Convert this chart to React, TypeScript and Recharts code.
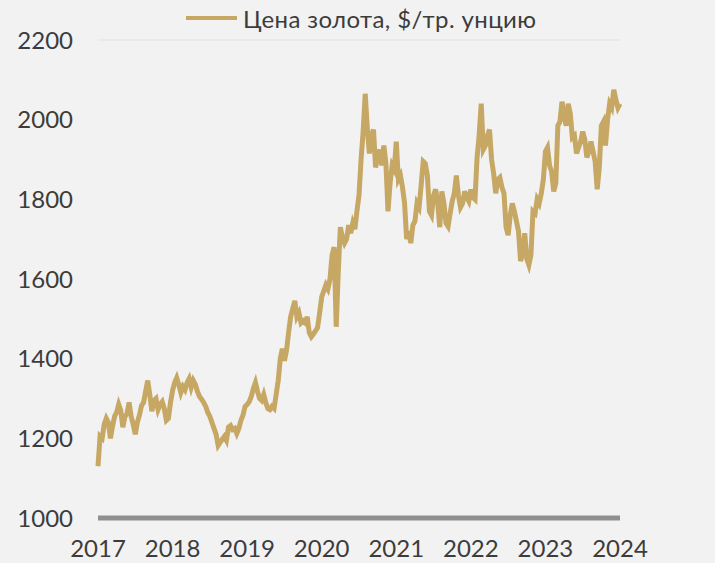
import React from 'react';
import {
  LineChart,
  Line,
  XAxis,
  YAxis,
  CartesianGrid,
} from 'recharts';

// Gold price, roughly every ten days (36 readings per year), USD per troy ounce
const prices2017 = [
  1130, 1205, 1200, 1235, 1250, 1240, 1200, 1230, 1255, 1265, 1285, 1270,
  1228, 1255, 1262, 1290, 1255, 1235, 1210, 1240, 1258, 1282, 1290, 1318,
  1345, 1310, 1268, 1295, 1300, 1272, 1285, 1292, 1275, 1245, 1250, 1290,
];
const prices2018 = [
  1320, 1340, 1352, 1335, 1315, 1330, 1322, 1340, 1350, 1328, 1345, 1335,
  1318, 1305, 1298, 1290, 1280, 1265, 1255, 1240, 1225, 1210, 1182, 1190,
  1198, 1205, 1195, 1228, 1232, 1222, 1225, 1212, 1225, 1245, 1258, 1280,
];
const prices2019 = [
  1285, 1292, 1305, 1325, 1340, 1318, 1300, 1295, 1310, 1290, 1275, 1272,
  1280, 1275, 1310, 1345, 1400, 1425, 1395, 1420, 1465, 1505, 1525, 1545,
  1505, 1515, 1490, 1495, 1490, 1505, 1465, 1455, 1462, 1470, 1478, 1515,
];
const prices2020 = [
  1555, 1570, 1585, 1575, 1600, 1660, 1680, 1480, 1620, 1730, 1705, 1690,
  1700, 1735, 1715, 1740, 1725, 1770, 1810, 1900, 1970, 2065, 1980, 1915,
  1960, 1975, 1880, 1905, 1925, 1885, 1935, 1890, 1770, 1840, 1885, 1875,
];
const prices2021 = [
  1945, 1850, 1860, 1830, 1790, 1700, 1720, 1690, 1735, 1745, 1790, 1780,
  1835, 1895, 1890, 1860, 1770, 1760, 1810, 1825, 1790, 1730, 1820, 1790,
  1740, 1732, 1765, 1795, 1815, 1860, 1810, 1780, 1790, 1820, 1805, 1795,
];
const prices2022 = [
  1825, 1805, 1800, 1905, 1960, 2040, 1925, 1935, 1960, 1975, 1900, 1865,
  1815, 1850, 1855, 1830, 1815, 1730, 1710, 1760, 1790, 1770, 1745, 1720,
  1645, 1665, 1715, 1650, 1635, 1660, 1770, 1765, 1800, 1790, 1815, 1850,
];
const prices2023 = [
  1920, 1930, 1885, 1870, 1820, 1840, 1985, 1995, 2045, 2010, 1985, 2040,
  2015, 1955, 1960, 1915, 1930, 1945, 1970, 1950, 1905, 1920, 1945, 1920,
  1895, 1825, 1880, 1985, 1995, 1935, 2000, 2040, 2030, 2075, 2050, 2030,
];
const lastPrice = 2040;

const years = [2017, 2018, 2019, 2020, 2021, 2022, 2023, 2024];
const yTicks = [1000, 1200, 1400, 1600, 1800, 2000, 2200];
const seriesName = 'Цена золота, $/тр. унцию';

const byYear = [prices2017, prices2018, prices2019, prices2020, prices2021, prices2022, prices2023];

const data = byYear.flatMap((arr, yi) =>
  arr.map((price, i) => ({ t: years[yi] + i / arr.length, price }))
);
data.push({ t: 2024, price: lastPrice });

const GOLD = '#c6a764';
const TEXT = '#3c3c3c';
const FONT = 'Lato, "Noto Sans", sans-serif';

export default function App() {
  return (
    <div style={{ position: 'absolute', left: 0, top: 0, width: 715, height: 563, background: '#f2f2f2' }}>
      {/* legend sits above the plot, drawn by hand so it takes no room from the chart */}
      <div
        style={{
          position: 'absolute',
          left: 186,
          top: 3,
          height: 30,
          display: 'flex',
          alignItems: 'center',
          fontFamily: FONT,
          fontSize: 24,
          letterSpacing: 0.4,
          color: TEXT,
          whiteSpace: 'nowrap',
        }}
      >
        <span style={{ display: 'inline-block', width: 51, height: 4, background: GOLD, marginRight: 6 }} />
        <span>{seriesName}</span>
      </div>
      <LineChart width={715} height={563} data={data} margin={{ top: 40, right: 0, left: 0, bottom: 0 }}>
        <CartesianGrid vertical={false} stroke="#e2e2e2" strokeWidth={1} />
        <XAxis
          dataKey="t"
          type="number"
          domain={[2017, 2024]}
          ticks={years}
          interval={0}
          height={45}
          axisLine={{ stroke: '#8f8f8f', strokeWidth: 5 }}
          tickLine={false}
          tickSize={0}
          tickMargin={22}
          tick={{ fontSize: 24, fill: TEXT, fontFamily: FONT }}
        />
        <YAxis
          yAxisId="left"
          orientation="left"
          domain={[1000, 2200]}
          ticks={yTicks}
          width={98}
          axisLine={false}
          tickLine={false}
          tickSize={0}
          tickMargin={25}
          tick={{ fontSize: 24, fill: TEXT, fontFamily: FONT }}
        />
        <YAxis
          yAxisId="right"
          orientation="right"
          domain={[1000, 2200]}
          ticks={yTicks}
          width={95}
          axisLine={false}
          tickLine={false}
          tickSize={0}
          tickMargin={23}
          tick={{ fontSize: 24, fill: TEXT, fontFamily: FONT, textAnchor: 'start' }}
        />
        <Line
          yAxisId="left"
          type="linear"
          dataKey="price"
          name={seriesName}
          stroke={GOLD}
          strokeWidth={5}
          dot={false}
          isAnimationActive={false}
        />
      </LineChart>
    </div>
  );
}
